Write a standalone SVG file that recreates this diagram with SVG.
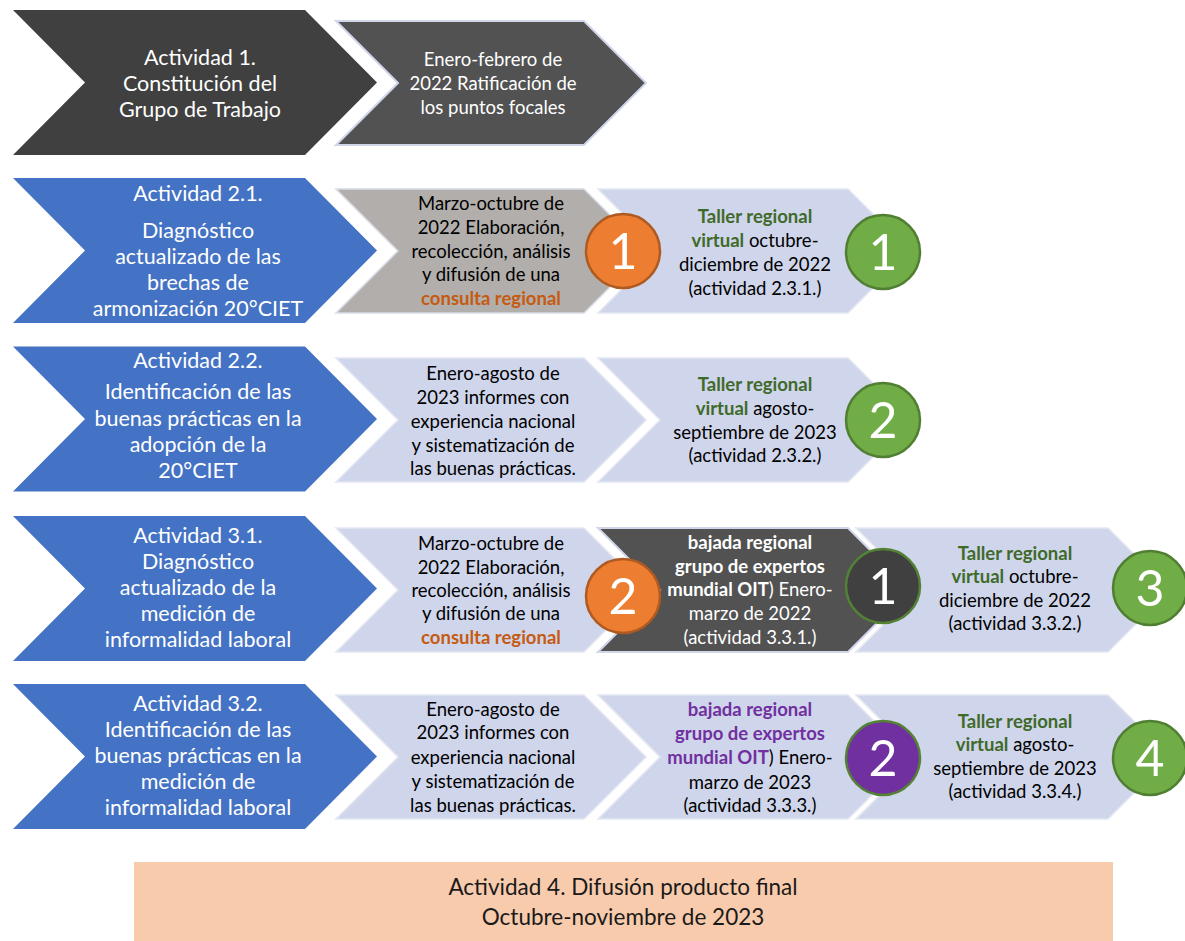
<svg xmlns="http://www.w3.org/2000/svg" width="1185" height="941" viewBox="0 0 1185 941">
<style>
text{font-family:Lato,"Liberation Sans",sans-serif;text-anchor:middle}
.t1{font-size:21.5px;fill:#fff}
.t2{font-size:18.5px;fill:#000}
.t2w{font-size:18.5px;fill:#fff}
.b{font-weight:bold}
.gr{fill:#3f6a29;font-weight:bold}
.or{fill:#c55a11;font-weight:bold}
.pu{fill:#7030a0;font-weight:bold}
.num{font-size:50px;fill:#fff}
.blue{fill:#4472c4}
.light{fill:#cfd5ea;stroke:#e4e7f2;stroke-width:1.5}
.dk{fill:#525252;stroke:#d0d5ea;stroke-width:2}
.gray{fill:#b2aeab;stroke:#d8dbe8;stroke-width:1.5}
.co{fill:#ed7d31;stroke:#ae5a21;stroke-width:2.5}
.cg{fill:#70ad47;stroke:#507e32;stroke-width:2.5}
.cd{fill:#404040;stroke:#548235;stroke-width:2.5}
.cp{fill:#7030a0;stroke:#548235;stroke-width:2.5}
.ft{font-size:22.5px;fill:#1a1a1a}
</style>

<!-- Row 1 -->
<g id="a1">
<polygon points="13,10 305,10 377,82.5 305,155 13,155 85,82.5" fill="#404040"/>
<text class="t1" x="200" y="65">Actividad 1.</text>
<text class="t1" x="200" y="91">Constitución del</text>
<text class="t1" x="200" y="117">Grupo de Trabajo</text>
</g>
<g id="a1b">
<polygon class="dk" points="336,21 584,21 646,83 584,145 336,145 398,83"/>
<text class="t2w" x="493" y="66">Enero-febrero de</text>
<text class="t2w" x="493" y="90">2022 Ratificación de</text>
<text class="t2w" x="493" y="114">los puntos focales</text>
</g>

<!-- Row 2 -->
<g id="a21">
<polygon class="blue" points="13,178 305,178 377,250.5 305,323 13,323 85,250.5"/>
<text class="t1" x="198" y="201">Actividad 2.1.</text>
<text class="t1" x="198" y="238">Diagnóstico</text>
<text class="t1" x="198" y="264">actualizado de las</text>
<text class="t1" x="198" y="290">brechas de</text>
<text class="t1" x="198" y="316">armonización 20°CIET</text>
</g>
<g id="a21b">
<polygon class="gray" points="336,189 584,189 646,251 584,313 336,313 398,251"/>
<text class="t2" x="491" y="210">Marzo-octubre de</text>
<text class="t2" x="491" y="234">2022 Elaboración,</text>
<text class="t2" x="491" y="258">recolección, análisis</text>
<text class="t2" x="491" y="281">y difusión de una</text>
<text class="t2 or" x="491" y="305">consulta regional</text>
</g>
<g id="a21c">
<polygon class="light" points="598,189 848,189 910,251 848,313 598,313 660,251"/>
<text class="t2" x="755" y="223"><tspan class="gr">Taller regional</tspan></text>
<text class="t2" x="755" y="247"><tspan class="gr">virtual</tspan> octubre-</text>
<text class="t2" x="755" y="271">diciembre de 2022</text>
<text class="t2" x="755" y="295">(actividad 2.3.1.)</text>
</g>
<g id="c21o">
<circle class="co" cx="623" cy="251" r="37"/>
<text class="num" x="623" y="269">1</text>
</g>
<g id="c21g">
<circle class="cg" cx="883" cy="252" r="37"/>
<text class="num" x="883" y="270">1</text>
</g>

<!-- Row 3 -->
<g id="a22">
<polygon class="blue" points="13,346.5 305,346.5 377,419 305,491.5 13,491.5 85,419"/>
<text class="t1" x="198" y="368">Actividad 2.2.</text>
<text class="t1" x="198" y="399">Identificación de las</text>
<text class="t1" x="198" y="426">buenas prácticas en la</text>
<text class="t1" x="198" y="452">adopción de la</text>
<text class="t1" x="198" y="478">20°CIET</text>
</g>
<g id="a22b">
<polygon class="light" points="336,358 584,358 646,420 584,482 336,482 398,420"/>
<text class="t2" x="493" y="380">Enero-agosto de</text>
<text class="t2" x="493" y="404">2023 informes con</text>
<text class="t2" x="493" y="428">experiencia nacional</text>
<text class="t2" x="493" y="452">y sistematización de</text>
<text class="t2" x="493" y="475">las buenas prácticas.</text>
</g>
<g id="a22c">
<polygon class="light" points="598,358 848,358 910,420 848,482 598,482 660,420"/>
<text class="t2" x="755" y="391"><tspan class="gr">Taller regional</tspan></text>
<text class="t2" x="755" y="415"><tspan class="gr">virtual</tspan> agosto-</text>
<text class="t2" x="755" y="439">septiembre de 2023</text>
<text class="t2" x="755" y="462">(actividad 2.3.2.)</text>
</g>
<g id="c22g">
<circle class="cg" cx="883" cy="420" r="37"/>
<text class="num" x="883" y="438">2</text>
</g>

<!-- Row 4 -->
<g id="a31">
<polygon class="blue" points="13,516 305,516 377,588.5 305,661 13,661 85,588.5"/>
<text class="t1" x="198" y="543">Actividad 3.1.</text>
<text class="t1" x="198" y="569">Diagnóstico</text>
<text class="t1" x="198" y="595">actualizado de la</text>
<text class="t1" x="198" y="621">medición de</text>
<text class="t1" x="198" y="647">informalidad laboral</text>
</g>
<g id="a31b">
<polygon class="light" points="336,528 584,528 646,590 584,652 336,652 398,590"/>
<text class="t2" x="491" y="550">Marzo-octubre de</text>
<text class="t2" x="491" y="574">2022 Elaboración,</text>
<text class="t2" x="491" y="597">recolección, análisis</text>
<text class="t2" x="491" y="620">y difusión de una</text>
<text class="t2 or" x="491" y="644">consulta regional</text>
</g>
<g id="a31c">
<polygon class="dk" points="598,528 848,528 910,590 848,652 598,652 660,590"/>
<text class="t2w b" x="750" y="549">bajada regional</text>
<text class="t2w b" x="750" y="573">grupo de expertos</text>
<text class="t2w" x="750" y="596"><tspan class="b">mundial OIT</tspan>) Enero-</text>
<text class="t2w" x="750" y="620">marzo de 2022</text>
<text class="t2w" x="750" y="644">(actividad 3.3.1.)</text>
</g>
<g id="a31d">
<polygon class="light" points="856,528 1108,528 1170,590 1108,652 856,652 918,590"/>
<text class="t2" x="1015" y="560"><tspan class="gr">Taller regional</tspan></text>
<text class="t2" x="1015" y="583"><tspan class="gr">virtual</tspan> octubre-</text>
<text class="t2" x="1015" y="607">diciembre de 2022</text>
<text class="t2" x="1015" y="630">(actividad 3.3.2.)</text>
</g>
<g id="c31o">
<circle class="co" cx="623" cy="596" r="37"/>
<text class="num" x="623" y="614">2</text>
</g>
<g id="c31d">
<circle class="cd" cx="883" cy="586" r="37"/>
<text class="num" x="883" y="604">1</text>
</g>
<g id="c31g">
<circle class="cg" cx="1150" cy="588" r="37"/>
<text class="num" x="1150" y="606">3</text>
</g>

<!-- Row 5 -->
<g id="a32">
<polygon class="blue" points="13,684 305,684 377,756.5 305,829 13,829 85,756.5"/>
<text class="t1" x="198" y="711">Actividad 3.2.</text>
<text class="t1" x="198" y="737">Identificación de las</text>
<text class="t1" x="198" y="763">buenas prácticas en la</text>
<text class="t1" x="198" y="789">medición de</text>
<text class="t1" x="198" y="815">informalidad laboral</text>
</g>
<g id="a32b">
<polygon class="light" points="336,695 584,695 646,757 584,819 336,819 398,757"/>
<text class="t2" x="493" y="716">Enero-agosto de</text>
<text class="t2" x="493" y="739">2023 informes con</text>
<text class="t2" x="493" y="764">experiencia nacional</text>
<text class="t2" x="493" y="788">y sistematización de</text>
<text class="t2" x="493" y="812">las buenas prácticas.</text>
</g>
<g id="a32c">
<polygon class="light" points="598,695 848,695 910,757 848,819 598,819 660,757"/>
<text class="t2 pu" x="750" y="716">bajada regional</text>
<text class="t2 pu" x="750" y="740">grupo de expertos</text>
<text class="t2" x="750" y="764"><tspan class="pu">mundial OIT</tspan>) Enero-</text>
<text class="t2" x="750" y="789">marzo de 2023</text>
<text class="t2" x="750" y="812">(actividad 3.3.3.)</text>
</g>
<g id="a32d">
<polygon class="light" points="856,695 1108,695 1170,757 1108,819 856,819 918,757"/>
<text class="t2" x="1015" y="728"><tspan class="gr">Taller regional</tspan></text>
<text class="t2" x="1015" y="751"><tspan class="gr">virtual</tspan> agosto-</text>
<text class="t2" x="1015" y="775">septiembre de 2023</text>
<text class="t2" x="1015" y="798">(actividad 3.3.4.)</text>
</g>
<g id="c32p">
<circle class="cp" cx="883" cy="758" r="37"/>
<text class="num" x="883" y="776">2</text>
</g>
<g id="c32g">
<circle class="cg" cx="1150" cy="758" r="37"/>
<text class="num" x="1150" y="776">4</text>
</g>

<!-- Final -->
<g id="a4">
<rect x="134" y="862" width="979" height="79" fill="#f8cbad"/>
<text class="ft" x="623" y="895">Actividad 4. Difusión producto final</text>
<text class="ft" x="623" y="925">Octubre-noviembre de 2023</text>
</g>

<g id="connectors"></g>
</svg>
